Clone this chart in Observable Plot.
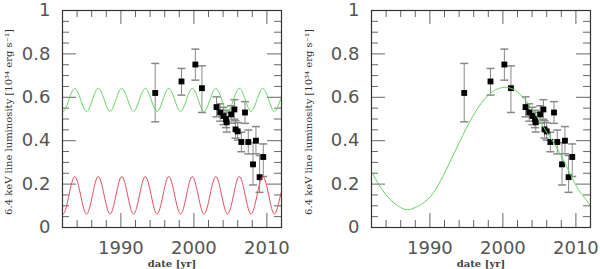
<!DOCTYPE html>
<html><head><meta charset="utf-8">
<script src="https://cdn.jsdelivr.net/npm/d3@7"></script>
<script src="https://cdn.jsdelivr.net/npm/@observablehq/plot@0.6"></script>
<style>
body{margin:0;background:#fff}
#wrap{display:flex;width:600px;height:269px;overflow:hidden}
</style>
</head><body><div id="wrap"></div>
<script>
// Observations (shared by both panels)
const obsYear = [1994.7, 1998.3, 2000.2, 2001.1, 2003.1, 2003.6, 2004.05, 2004.4, 2004.5, 2005.1, 2005.55, 2005.7, 2006.0, 2006.5, 2007.0, 2007.45, 2008.1, 2008.5, 2009.0, 2009.5];
const obsLum  = [0.62, 0.673, 0.751, 0.642, 0.555, 0.53, 0.514, 0.50, 0.485, 0.521, 0.544, 0.452, 0.443, 0.394, 0.53, 0.394, 0.291, 0.40, 0.232, 0.325];
const errLo   = [0.133, 0.063, 0.072, 0.112, 0.045, 0.04, 0.04, 0.04, 0.045, 0.04, 0.045, 0.04, 0.04, 0.045, 0.05, 0.055, 0.095, 0.06, 0.07, 0.09];
const errHi   = [0.136, 0.06, 0.071, 0.103, 0.047, 0.04, 0.04, 0.04, 0.045, 0.04, 0.045, 0.04, 0.04, 0.045, 0.05, 0.055, 0.1, 0.065, 0.1, 0.06];

// Left panel model curves (read at crests, troughs and half-way points)
const leftCurveYear = [1981.27, 1982.07, 1982.88, 1983.68, 1984.49, 1985.29, 1986.10, 1986.90, 1987.71, 1988.51,
  1989.32, 1990.12, 1990.93, 1991.73, 1992.54, 1993.34, 1994.15, 1994.95, 1995.76, 1996.56,
  1997.37, 1998.17, 1998.98, 1999.78, 2000.59, 2001.39, 2002.20, 2003.00, 2003.81, 2004.61,
  2005.42, 2006.22, 2007.03, 2007.83, 2008.64, 2009.44, 2010.25, 2011.05, 2011.86, 2012.66];
const leftGreenLum = [0.589, 0.535, 0.589, 0.641, 0.589, 0.535, 0.589, 0.641, 0.589, 0.535,
  0.589, 0.641, 0.589, 0.535, 0.589, 0.641, 0.589, 0.535, 0.589, 0.641,
  0.589, 0.535, 0.589, 0.641, 0.589, 0.535, 0.589, 0.641, 0.589, 0.535,
  0.589, 0.641, 0.589, 0.535, 0.589, 0.641, 0.589, 0.535, 0.589, 0.641];
const leftRedLum = [0.148, 0.062, 0.148, 0.235, 0.148, 0.062, 0.148, 0.235, 0.148, 0.062,
  0.148, 0.235, 0.148, 0.062, 0.148, 0.235, 0.148, 0.062, 0.148, 0.235,
  0.148, 0.062, 0.148, 0.235, 0.148, 0.062, 0.148, 0.235, 0.148, 0.062,
  0.148, 0.235, 0.148, 0.062, 0.148, 0.235, 0.148, 0.062, 0.148, 0.235];

// Right panel model curve
const rightGreenYear = [1982, 1984, 1986, 1987, 1988, 1990, 1992, 1994, 1996, 1998, 2000, 2002, 2004, 2006, 2008, 2010, 2011, 2012];
const rightGreenLum  = [0.257, 0.15, 0.092, 0.082, 0.092, 0.14, 0.25, 0.39, 0.52, 0.61, 0.645, 0.625, 0.545, 0.44, 0.33, 0.195, 0.145, 0.1];

// Axes
const xDomain = [1982, 2012];
const yDomain = [0, 1];
const xMajorTicks = [1990, 2000, 2010];
const xMinorTicks = [1984, 1986, 1988, 1992, 1994, 1996, 1998, 2002, 2004, 2006, 2008];
const yMajorTicks = [0, 0.2, 0.4, 0.6, 0.8, 1];
const yMinorTicks = [0.05, 0.1, 0.15, 0.25, 0.3, 0.35, 0.45, 0.5, 0.55, 0.65, 0.7, 0.75, 0.85, 0.9, 0.95];
const xLabel = "date [yr]";
const yLabel = "6.4 keV line luminosity [10³⁴ erg s⁻¹]";

const GREEN = "#62d662", RED = "#e0505e";

const obs = obsYear.map((x, i) => ({x, y: obsLum[i], lo: obsLum[i] - errLo[i], hi: obsLum[i] + errHi[i]}));
const toPts = (xs, ys) => xs.map((x, i) => ({x, y: ys[i]}));

const capSymbol = {draw(ctx) { ctx.moveTo(-4, 0); ctx.lineTo(4, 0); }};

function panel(curves, ml, mr) {
  const W = 300, H = 269, mt = 10, mb = 42;
  const iw = W - ml - mr, ih = H - mt - mb;
  const tickStroke = "#666";
  const font = "'DejaVu Sans', sans-serif";
  const labelFont = "'DejaVu Serif', serif";
  return Plot.plot({
    width: W, height: H, marginLeft: ml, marginRight: mr, marginTop: mt, marginBottom: mb,
    x: {domain: xDomain},
    y: {domain: yDomain},
    style: {background: "white", overflow: "visible"},
    marks: [
      Plot.tickX(xMinorTicks, {x: d => d, insetTop: ih - 7, stroke: tickStroke}),
      Plot.tickX(xMinorTicks, {x: d => d, insetBottom: ih - 7, stroke: tickStroke}),
      Plot.tickX(xMajorTicks, {x: d => d, insetTop: ih - 14, stroke: tickStroke}),
      Plot.tickX(xMajorTicks, {x: d => d, insetBottom: ih - 14, stroke: tickStroke}),
      Plot.tickY(yMinorTicks, {y: d => d, insetRight: iw - 7, stroke: tickStroke}),
      Plot.tickY(yMinorTicks, {y: d => d, insetLeft: iw - 7, stroke: tickStroke}),
      Plot.tickY(yMajorTicks, {y: d => d, insetRight: iw - 14, stroke: tickStroke}),
      Plot.tickY(yMajorTicks, {y: d => d, insetLeft: iw - 14, stroke: tickStroke}),
      Plot.ruleX(obs, {x: "x", y1: "lo", y2: "hi", stroke: "#888"}),
      Plot.dot(obs, {x: "x", y: "lo", symbol: capSymbol, stroke: "#888", fill: "none", r: 4}),
      Plot.dot(obs, {x: "x", y: "hi", symbol: capSymbol, stroke: "#888", fill: "none", r: 4}),
      Plot.dot(obs, {x: "x", y: "y", symbol: "square", fill: "black", stroke: "none", r: 3.3}),
      ...curves.map(c => Plot.line(c.pts, {x: "x", y: "y", stroke: c.color, strokeWidth: 1, curve: "natural", clip: true})),
      Plot.frame({stroke: "#333", strokeWidth: 1.2}),
      Plot.axisX(xMajorTicks, {tickSize: 0, tickPadding: 14, tickFormat: d => String(d), fontSize: 18, fontFamily: font, fill: "#555", label: null}),
      Plot.axisY(yMajorTicks, {tickSize: 0, tickPadding: 12, tickFormat: d => String(d), fontSize: 18, fontFamily: font, fill: "#555", label: null}),
      Plot.text([xLabel], {frameAnchor: "bottom", dy: 36, lineAnchor: "middle", textAnchor: "middle", fontSize: 10, fontWeight: "bold", fontFamily: labelFont, fill: "#444"}),
      Plot.text([yLabel], {frameAnchor: "left", dx: -(ml - 8), dy: 3, rotate: -90, textAnchor: "middle", lineAnchor: "middle", fontSize: 10, fontFamily: labelFont, fill: "#333"})
    ]
  });
}

const wrap = document.getElementById("wrap");
wrap.append(panel([
  {pts: toPts(leftCurveYear, leftGreenLum), color: GREEN},
  {pts: toPts(leftCurveYear, leftRedLum), color: RED}
], 62, 19));
wrap.append(panel([
  {pts: toPts(rightGreenYear, rightGreenLum), color: GREEN}
], 71, 10));
</script>
</body></html>
